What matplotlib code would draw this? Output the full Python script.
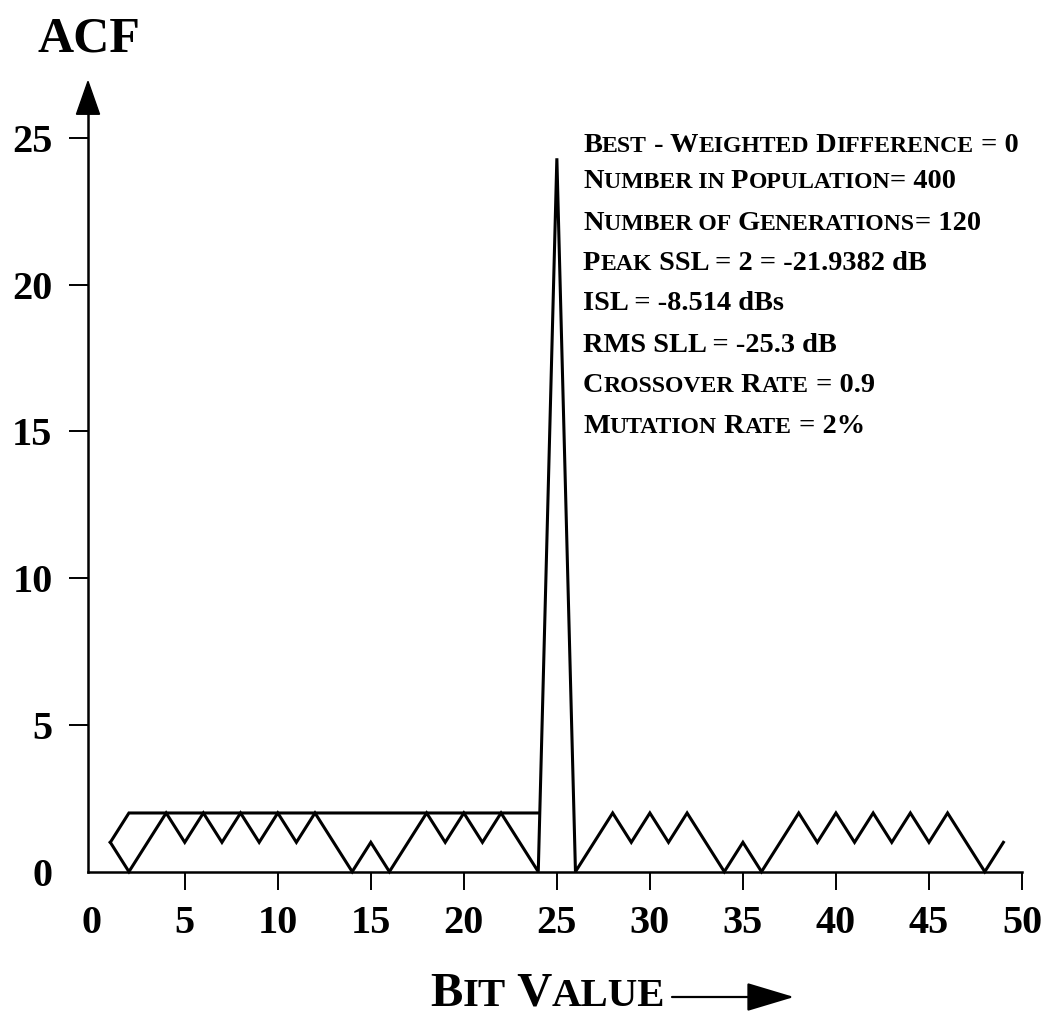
import re
import matplotlib
matplotlib.use("Agg")
import matplotlib.pyplot as plt
from matplotlib.patches import Polygon, FancyArrowPatch
from matplotlib.transforms import IdentityTransform

# Autocorrelation of the best 25-bit code, lags 1..49
lag = list(range(1, 50))
acf = [1, 0, 1, 2, 1, 2, 1, 2, 1, 2, 1, 2, 1, 0, 1, 0, 1, 2, 1, 2, 1, 2, 1, 0,
       24.3,
       0, 1, 2, 1, 2, 1, 2, 1, 0, 1, 0, 1, 2, 1, 2, 1, 2, 1, 2, 1, 2, 1, 0, 1]

# Peak-sidelobe envelope drawn over the left half
env_lag = [1, 2, 24]
env_val = [1, 2, 2]

xticks = [0, 5, 10, 15, 20, 25, 30, 35, 40, 45, 50]
yticks = [0, 5, 10, 15, 20, 25]

# Run parameters; text inside {} is set in small capitals
info_lines = [
    "B{est} - W{eighted} D{ifference} = 0",
    "N{umber in} P{opulation}= 400",
    "N{umber of} G{enerations}= 120",
    "P{eak} SSL = 2 = -21.9382 dB",
    "ISL = -8.514 dBs",
    "RMS SLL = -25.3 dB",
    "C{rossover} R{ate} = 0.9",
    "M{utation} R{ate} = 2%",
]
xlabel_text = "B{it} V{alue}"
ylabel_text = "ACF"

FONT = dict(family="Liberation Serif", weight="bold")
W, H, DPI = 1046, 1018, 100

fig = plt.figure(figsize=(W / DPI, H / DPI), dpi=DPI)
ax = fig.add_axes([88 / W, 1 - 871.7 / H, (1022 - 88) / W, 792.7 / H])
ax.set_xlim(-0.2, 50)
ax.set_ylim(0, 27)

ax.plot(lag, acf, color="black", lw=2.2, solid_joinstyle="miter", clip_on=False)
ax.plot(env_lag, env_val, color="black", lw=2.2, solid_joinstyle="miter", clip_on=False)

for side in ("top", "right"):
    ax.spines[side].set_visible(False)
ax.spines["left"].set_bounds(0, 25.8)
ax.spines["left"].set_linewidth(1.8)
ax.spines["bottom"].set_linewidth(1.8)

# arrow head on the vertical axis
x0 = -0.2
ax.add_patch(Polygon([[x0 - 0.62, 25.8], [x0 + 0.62, 25.8], [x0, 26.92]],
                     closed=True, color="black", clip_on=False))

ax.set_xticks(xticks)
ax.set_xticklabels([str(v) for v in xticks])
ax.set_yticks(yticks)
ax.set_yticklabels([str(v) for v in yticks])
ax.tick_params(axis="x", direction="out", length=13, width=1.4, pad=11)
ax.tick_params(axis="y", direction="out", length=13.5, width=1.4, pad=12)
ax.xaxis.get_major_ticks()[0].tick1line.set_visible(False)
ax.yaxis.get_major_ticks()[0].tick1line.set_visible(False)
for lab in ax.get_xticklabels() + ax.get_yticklabels():
    lab.set_fontfamily(FONT["family"])
    lab.set_fontweight("bold")
    lab.set_fontsize(29)

renderer = fig.canvas.get_renderer()


def advance(s, size):
    """Horizontal advance of a string in pixels, spaces included."""
    t = fig.text(0, 0, "|" + s + "|", fontsize=size, **FONT)
    w = t.get_window_extent(renderer).width
    t.remove()
    t = fig.text(0, 0, "||", fontsize=size, **FONT)
    w0 = t.get_window_extent(renderer).width
    t.remove()
    return w - w0


def small_caps(x, y_top, markup, size, ratio=0.84):
    """Draw markup text starting at pixel x, baseline y_top pixels from the top."""
    x_px = x
    y_px = H - y_top
    for part in re.split(r"(\{[^}]*\})", markup):
        if not part:
            continue
        if part.startswith("{"):
            s, sz = part[1:-1].upper(), size * ratio
        else:
            s, sz = part, size
        fig.text(x_px, y_px, s, fontsize=sz, transform=IdentityTransform(),
                 ha="left", va="baseline", **FONT)
        x_px += advance(s, sz)
    return x_px


baselines = [151.7, 188.3, 230, 270, 310, 351.7, 391.7, 433.3]
for line, yb in zip(info_lines, baselines):
    small_caps(583, yb, line, 20.4)

fig.text(37, H - 52, ylabel_text, fontsize=36, transform=IdentityTransform(),
         ha="left", va="baseline", **FONT)

small_caps(430, 1006, xlabel_text, 35)
fig.add_artist(FancyArrowPatch(
    (672, H - 997), (794, H - 997), transform=IdentityTransform(),
    arrowstyle="-|>,head_length=1.5,head_width=0.45", mutation_scale=20,
    color="black", lw=1.6, shrinkA=0, shrinkB=0))

fig.savefig("out.png", dpi=DPI, facecolor="white")
